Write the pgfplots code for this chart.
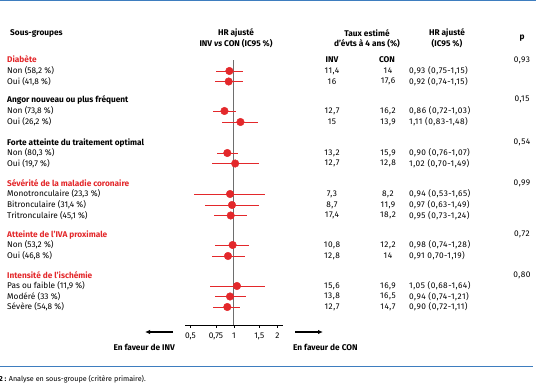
\documentclass[border=0pt]{standalone}
\usepackage{pgfplots}
\usepackage{pgfplotstable}
\pgfplotsset{compat=1.18}
\usetikzlibrary{arrows.meta}
\usepackage{fontspec}
\setmainfont{Fira Sans}
\newfontfamily\numfont[LetterSpace=6]{Fira Sans}
\definecolor{rd}{HTML}{E3282B}
\definecolor{bl}{HTML}{3E7DBF}
\definecolor{refgray}{HTML}{6E6E6E}
\newcommand\fs{\fontsize{8.3}{9.5}\selectfont}

% y = vertical position of the row (picture units), hr, lo, hi
\pgfplotstableread{
y     hr    lo    hi
315   0.93  0.75  1.15
304.5 0.92  0.74  1.15
275   0.86  0.72  1.03
264   1.11  0.83  1.48
233   0.90  0.76  1.07
222.5 1.02  0.70  1.49
192   0.94  0.53  1.65
181   0.97  0.63  1.49
170.5 0.95  0.73  1.24
141   0.98  0.74  1.28
130   0.91  0.70  1.19
100   1.05  0.68  1.64
89.5  0.94  0.74  1.21
79    0.90  0.72  1.11
}\forest

\begin{document}
\begin{tikzpicture}[font=\fs]
\path[use as bounding box] (0,0) rectangle (536pt,386pt);

\begin{axis}[
  at={(185pt,61pt)}, anchor=south west,
  scale only axis, width=98pt, height=265pt,
  xmode=log, xmin=0.458, xmax=2.19, ymin=61, ymax=326,
  axis x line*=bottom, hide y axis,
  xtick={0.5,0.75,1,1.5,2},
  xticklabels={{0,5},{0,75},{1},{1,5},{2}},
  xminorticks=false,
  tick align=outside, major tick length=3pt,
  tick style={black, line width=0.7pt},
  axis line style={black, line width=0.8pt},
  x axis line style={-},
  xticklabel style={font=\fs, yshift=-1pt},
  /pgf/number format/assume math mode=true,
  clip=false,
]
\addplot[refgray, line width=1pt] coordinates {(1,61) (1,326)};
\addplot[only marks, mark=*, mark size=3.8pt, color=rd,
  error bars/.cd, x dir=both, x explicit, error mark=none,
  error bar style={rd, line width=0.8pt}]
  table[x=hr, y=y,
    x error plus expr=\thisrow{hi}-\thisrow{hr},
    x error minus expr=\thisrow{hr}-\thisrow{lo}] {\forest};
\end{axis}

\begin{scope}[x=1pt, y=1pt, every node/.style={inner sep=0pt}]
% blue rules
\fill[bl] (0,385) rectangle (536,386.5);
\fill[bl] (0,19.2) rectangle (533,20.4);
% headers
\node[anchor=mid west, font=\fs\bfseries] at (10,353) {Sous-groupes};
\node[font=\fs\bfseries] at (236,353) {HR ajusté};
\node[font=\fs\bfseries] at (236,342) {INV \textit{vs} CON (IC95 \%)};
\node[font=\fs\bfseries] at (367,353) {Taux estimé};
\node[font=\fs\bfseries] at (367,342) {d'évts à 4 ans (\%)};
\node[font=\fs\bfseries] at (447,353) {HR ajusté};
\node[font=\fs\bfseries] at (447,342) {(IC95 \%)};
\node[font=\fs\bfseries] at (522,348) {p};
\node[font=\fs\bfseries] at (332,326) {INV};
\node[font=\fs\bfseries] at (387,326) {CON};

% groups
\node[anchor=mid west, font=\fs\bfseries, text=rd] at (7,326) {Diabète};
\node[anchor=mid west, font=\fs\bfseries] at (7,286.5) {Angor nouveau ou plus fréquent};
\node[anchor=mid west, font=\fs\bfseries] at (7,243.5) {Forte atteinte du traitement optimal};
\node[anchor=mid west, font=\fs\bfseries, text=rd] at (7,202.5) {Sévérité de la maladie coronaire};
\node[anchor=mid west, font=\fs\bfseries, text=rd] at (7,151.5) {Atteinte de l'IVA proximale};
\node[anchor=mid west, font=\fs\bfseries, text=rd] at (7,110.5) {Intensité de l'ischémie};

% p values
\node[font=\fs\numfont] at (522,326) {0,93};
\node[font=\fs\numfont] at (522,286.5) {0,15};
\node[font=\fs\numfont] at (522,243.5) {0,54};
\node[font=\fs\numfont] at (522,202.5) {0,99};
\node[font=\fs\numfont] at (522,151.5) {0,72};
\node[font=\fs\numfont] at (522,110.5) {0,80};

\newcommand\rowtxt[5]{%
  \node[anchor=mid west] at (7,#1) {#2};
  \node[font=\fs\numfont] at (332,#1) {#3};
  \node[font=\fs\numfont] at (388,#1) {#4};
  \node[anchor=mid west, font=\fs\numfont] at (409,#1) {#5};}
\rowtxt{315}{Non (58,2 \%)}{11,4}{14}{0,93 (0,75-1,15)}
\rowtxt{304.5}{Oui (41,8 \%)}{16}{17,6}{0,92 (0,74-1,15)}
\rowtxt{275}{Non (73,8 \%)}{12,7}{16,2}{0,86 (0,72-1,03)}
\rowtxt{264}{Oui (26,2 \%)}{15}{13,9}{1,11 (0,83-1,48)}
\rowtxt{233}{Non (80,3 \%)}{13,2}{15,9}{0,90 (0,76-1,07)}
\rowtxt{222.5}{Oui (19,7 \%)}{12,7}{12,8}{1,02 (0,70-1,49)}
\rowtxt{192}{Monotronculaire (23,3 \%)}{7,3}{8,2}{0,94 (0,53-1,65)}
\rowtxt{181}{Bitronculaire (31,4 \%)}{8,7}{11,9}{0,97 (0,63-1,49)}
\rowtxt{170.5}{Tritronculaire (45,1 \%)}{17,4}{18,2}{0,95 (0,73-1,24)}
\rowtxt{141}{Non (53,2 \%)}{10,8}{12,2}{0,98 (0,74-1,28)}
\rowtxt{130}{Oui (46,8 \%)}{12,8}{14}{0,91 0,70-1,19)}
\rowtxt{100}{Pas ou faible (11,9 \%)}{15,6}{16,9}{1,05 (0,68-1,64)}
\rowtxt{89.5}{Modéré (33 \%)}{13,8}{16,5}{0,94 (0,74-1,21)}
\rowtxt{79}{Sévère (54,8 \%)}{12,7}{14,7}{0,90 (0,72-1,11)}

% arrows and favour labels
\draw[-{Latex[length=5pt,width=4.5pt]}, line width=1.2pt] (173,54) -- (145,54);
\draw[-{Latex[length=5pt,width=4.5pt]}, line width=1.2pt] (295,54) -- (323,54);
\node[anchor=mid east, font=\fs\bfseries] at (175,38) {En faveur de INV};
\node[anchor=mid west, font=\fs\bfseries] at (293,38) {En faveur de CON};

% caption
\node[anchor=mid west, font=\fontsize{7.2}{8}\selectfont] at (-1,7) {\textbf{2 :} Analyse en sous-groupe (critère primaire).};
\end{scope}
\end{tikzpicture}
\end{document}
